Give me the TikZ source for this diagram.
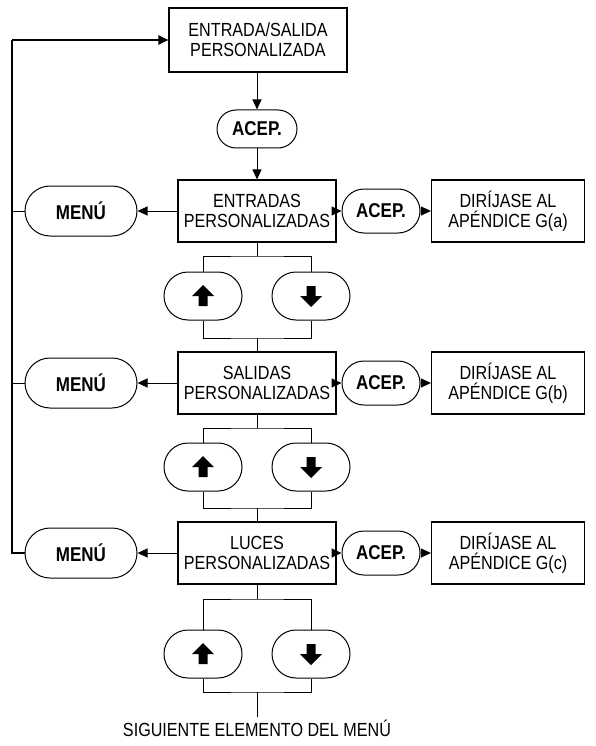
\documentclass[tikz,border=0pt]{standalone}
\usepackage{fontspec}
\setmainfont{Liberation Sans}[FakeStretch=0.85]
\usetikzlibrary{shapes.misc,arrows.meta}
\begin{document}
\begin{tikzpicture}[x=1pt,y=-1pt,
  every node/.style={font=\fontsize{19}{20}\selectfont},
  box/.style={draw,line width=1.1pt,rectangle,minimum width=158pt,minimum height=62pt,align=center,inner sep=0pt},
  pill/.style={draw,line width=1pt,rounded rectangle,minimum width=78pt,minimum height=44pt,inner sep=0pt,font=\fontsize{20}{20}\selectfont\bfseries},
  menupill/.style={pill,minimum width=112pt,minimum height=50pt},
  btn/.style={draw,line width=1pt,rounded rectangle,minimum width=78pt,minimum height=48pt,inner sep=0pt},
  tip/.style={-{Triangle[length=10pt,width=9pt]}},
  ln/.style={line width=1pt},
  loopln/.style={line width=2pt},
  uparrow/.pic={\fill (0,-11) -- (11,0) -- (4.5,0) -- (4.5,10) -- (-4.5,10) -- (-4.5,0) -- (-11,0) -- cycle;},
  downarrow/.pic={\fill (0,11) -- (11,0) -- (4.5,0) -- (4.5,-10) -- (-4.5,-10) -- (-4.5,0) -- (-11,0) -- cycle;}
]
\useasboundingbox (0,0) rectangle (595,746);
\node[box,minimum width=178pt,minimum height=64pt] (top) at (258,40) {ENTRADA/SALIDA\\PERSONALIZADA};
\node[pill,minimum width=80pt,minimum height=38pt] (a0) at (257,129) {ACEP.};
% rows
\node[box] (b1) at (257,211) {ENTRADAS\\PERSONALIZADAS};
\node[menupill] (m1) at (81,211) {MENÚ};
\node[pill] (c1) at (381,211) {ACEP.};
\node[box,minimum width=153pt] (d1) at (508,211) {DIRÍJASE AL\\APÉNDICE G(a)};
\node[btn] (u1) at (203,296) {}; \pic at (u1) {uparrow};
\node[btn] (v1) at (311,296) {}; \pic at (v1) {downarrow};

\node[box] (b2) at (257,383) {SALIDAS\\PERSONALIZADAS};
\node[menupill] (m2) at (81,383) {MENÚ};
\node[pill] (c2) at (381,383) {ACEP.};
\node[box,minimum width=153pt] (d2) at (508,383) {DIRÍJASE AL\\APÉNDICE G(b)};
\node[btn] (u2) at (203,467) {}; \pic at (u2) {uparrow};
\node[btn] (v2) at (311,467) {}; \pic at (v2) {downarrow};

\node[box] (b3) at (257,553) {LUCES\\PERSONALIZADAS};
\node[menupill] (m3) at (81,553) {MENÚ};
\node[pill] (c3) at (381,553) {ACEP.};
\node[box,minimum width=153pt] (d3) at (508,553) {DIRÍJASE AL\\APÉNDICE G(c)};
\node[btn] (u3) at (203,654) {}; \pic at (u3) {uparrow};
\node[btn] (v3) at (311,654) {}; \pic at (v3) {downarrow};

\node[inner sep=2pt] (sig) at (257,728) {SIGUIENTE ELEMENTO DEL MENÚ};

% top connectors
\draw[ln,tip] (a0.north |- top.south) -- (a0.north);
\draw[ln,tip] (a0.south) -- (b1.north);

% row connectors
\foreach \i in {1,2,3}{
  \draw[ln,tip] (b\i.west) -- (m\i.east);
  \draw[ln,tip] (b\i.east) -- (c\i.west);
  \draw[ln,tip] (c\i.east) -- (d\i.west);
}
% trees
\coordinate (j1) at (257,256); \coordinate (k1) at (257,338);
\coordinate (j2) at (257,428); \coordinate (k2) at (257,508);
\coordinate (j3) at (257,599); \coordinate (k3) at (257,692);
\foreach \i in {1,2,3}{
  \draw[ln] (b\i.south) -- (j\i);
  \draw[ln] (u\i.north) |- (j\i) -| (v\i.north);
  \draw[ln] (u\i.south) |- (k\i) -| (v\i.south);
}
\draw[ln] (k1) -- (b2.north);
\draw[ln] (k2) -- (b3.north);
\draw[ln] (k3) -- (sig.north);

% loop back
\coordinate (lt) at (12,40);
\coordinate (lb) at (12,553);
\draw[loopln] (m3.west) -- (lb) -- (lt);
\draw[loopln,tip] (lt) -- (top.west);
\draw[ln] (m1.west) -- (m1.west -| lt);
\draw[ln] (m2.west) -- (m2.west -| lt);
\end{tikzpicture}
\end{document}
